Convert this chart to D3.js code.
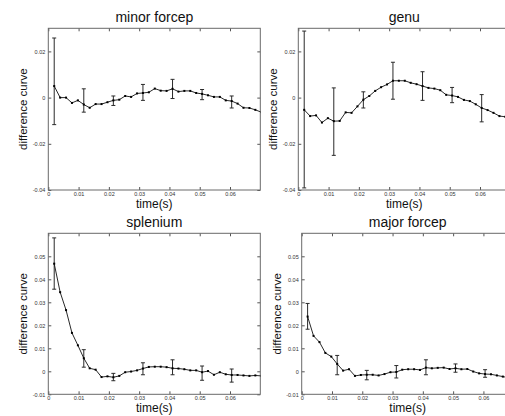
<!DOCTYPE html>
<html>
<head>
<meta charset="utf-8">
<script src="https://cdn.jsdelivr.net/npm/d3@7"></script>
<style>
  body { margin: 0; background: #fff; }
  svg { display: block; }
  text { font-family: "Liberation Sans", Arial, sans-serif; }
</style>
</head>
<body>
<svg width="505" height="416"></svg>
<script>
// sample times (s), one sample every 1/512 s
var timeSec = [0.00195, 0.00391, 0.00586, 0.00781, 0.00977, 0.01172, 0.01367, 0.01563, 0.01758, 0.01953,
  0.02148, 0.02344, 0.02539, 0.02734, 0.02930, 0.03125, 0.03320, 0.03516, 0.03711, 0.03906,
  0.04102, 0.04297, 0.04492, 0.04688, 0.04883, 0.05078, 0.05273, 0.05469, 0.05664, 0.05859,
  0.06055, 0.06250, 0.06445, 0.06641, 0.06836, 0.07031];

// samples that carry an error bar
var errIdx = [0, 5, 10, 15, 20, 25, 30];

// minor forcep
var minorVals = [0.005, 0.0, 0.0, -0.0023, -0.0012, -0.003, -0.0044, -0.0028, -0.0028, -0.002,
  -0.0012, -0.0009, 0.0007, 0.0003, 0.0018, 0.002, 0.0023, 0.0039, 0.003, 0.0029,
  0.0038, 0.0026, 0.0029, 0.0029, 0.002, 0.0016, 0.001, 0.0003, 0.0003, -0.0012,
  -0.0015, -0.0026, -0.0044, -0.0045, -0.0053, -0.0063];
var minorHi = [0.0258, 0.0038, 0.0007, 0.0057, 0.0079, 0.0035, 0.0007];
var minorLo = [-0.0117, -0.0063, -0.0034, -0.0012, -0.0004, -0.0009, -0.0045];

// genu
var genuVals = [-0.0053, -0.008, -0.0077, -0.0108, -0.0089, -0.0102, -0.0101, -0.0064, -0.0066, -0.0038,
  -0.0009, 0.0007, 0.0029, 0.0045, 0.0057, 0.0073, 0.0073, 0.0073, 0.0064, 0.0058,
  0.005, 0.0042, 0.0039, 0.0032, 0.0012, 0.0009, 0.0003, -0.001, -0.0015, -0.0029,
  -0.0045, -0.0054, -0.0066, -0.008, -0.0083, -0.0086];
var genuHi = [0.0288, 0.0042, 0.0025, 0.0153, 0.0112, 0.0044, 0.0013];
var genuLo = [-0.0391, -0.025, -0.0045, -0.0007, -0.0012, -0.0022, -0.0105];

// splenium
var splenVals = [0.0468, 0.0344, 0.0266, 0.0167, 0.0113, 0.0057, 0.0013, 0.0007, -0.0025, -0.0022,
  -0.0026, -0.002, -0.0004, -0.0001, 0.0004, 0.0012, 0.0019, 0.002, 0.002, 0.0018,
  0.0013, 0.0012, 0.0009, 0.0004, 0.0004, -0.0004, 0.0001, -0.0015, -0.0004, -0.0013,
  -0.0016, -0.0016, -0.0018, -0.002, -0.0018, -0.002];
var splenHi = [0.058, 0.0094, -0.0009, 0.0037, 0.005, 0.0023, 0.001];
var splenLo = [0.0357, 0.0018, -0.0041, -0.0015, -0.0015, -0.0039, -0.0047];

// major forcep
var majorVals = [0.0238, 0.0154, 0.0127, 0.008, 0.0064, 0.0032, 0.0003, 0.0009, -0.002, -0.0016,
  -0.0015, -0.0015, -0.0018, -0.0012, -0.0004, -0.0003, 0.0007, 0.0009, 0.0009, 0.0006,
  0.0016, 0.0013, 0.0015, 0.0016, 0.001, 0.0013, 0.0009, 0.001, -0.0001, -0.0009,
  -0.0012, -0.0013, -0.0018, -0.0023, -0.0028];
var majorHi = [0.0295, 0.0069, 0.0004, 0.0025, 0.005, 0.0032, 0.0007];
var majorLo = [0.0183, -0.0015, -0.0037, -0.0029, -0.0015, -0.0004, -0.0026];

// axis ticks
var xTicks = [0, 0.01, 0.02, 0.03, 0.04, 0.05, 0.06];
var yTicksTop = [-0.04, -0.02, 0, 0.02];
var yTicksBottom = [-0.01, 0, 0.01, 0.02, 0.03, 0.04, 0.05];

var panels = [
  { title: "minor forcep", vals: minorVals, hi: minorHi, lo: minorLo,
    left: 48.3, top: 28.3, w: 212, h: 161.7, yDom: [-0.04, 0.03], yTicks: yTicksTop },
  { title: "genu", vals: genuVals, hi: genuHi, lo: genuLo,
    left: 298.3, top: 28.3, w: 212, h: 161.7, yDom: [-0.04, 0.03], yTicks: yTicksTop },
  { title: "splenium", vals: splenVals, hi: splenHi, lo: splenLo,
    left: 48.3, top: 233.3, w: 212, h: 161, yDom: [-0.01, 0.06], yTicks: yTicksBottom },
  { title: "major forcep", vals: majorVals, hi: majorHi, lo: majorLo,
    left: 301.7, top: 233.3, w: 212, h: 161, yDom: [-0.01, 0.06], yTicks: yTicksBottom }
];

var svg = d3.select("svg");
var fmt = function(d) { return d === 0 ? "0" : d.toFixed(2); };

panels.forEach(function(p, i) {
  var g = svg.append("g").attr("transform", "translate(" + p.left + "," + p.top + ")");
  var x = d3.scaleLinear().domain([0, 0.07]).range([0, p.w]);
  var y = d3.scaleLinear().domain(p.yDom).range([p.h, 0]);

  // clip for the data
  svg.append("clipPath").attr("id", "clip" + i)
    .append("rect").attr("width", p.w).attr("height", p.h);

  // axes with inward ticks (MATLAB style)
  var axB = g.append("g").attr("transform", "translate(0," + p.h + ")")
    .call(d3.axisBottom(x).tickValues(xTicks).tickFormat(fmt).tickSize(-3).tickPadding(2));
  var axL = g.append("g")
    .call(d3.axisLeft(y).tickValues(p.yTicks).tickFormat(fmt).tickSize(-3).tickPadding(3));
  var axT = g.append("g")
    .call(d3.axisTop(x).tickValues(xTicks).tickFormat("").tickSize(-3));
  var axR = g.append("g").attr("transform", "translate(" + p.w + ",0)")
    .call(d3.axisRight(y).tickValues(p.yTicks).tickFormat("").tickSize(-3));

  [axB, axL, axT, axR].forEach(function(a) {
    a.select(".domain").remove();
    a.selectAll(".tick line").attr("stroke", "#555");
    a.selectAll(".tick text").attr("fill", "#333").style("font-size", "5.5px")
      .style("font-family", "'Liberation Sans', Arial, sans-serif");
  });

  // frame
  g.append("rect").attr("width", p.w).attr("height", p.h)
    .attr("fill", "none").attr("stroke", "#6a6a6a").attr("stroke-width", 1);

  var data = p.vals.map(function(v, k) { return { t: timeSec[k], v: v }; });
  var plot = g.append("g").attr("clip-path", "url(#clip" + i + ")");

  // error bars
  var errs = errIdx.map(function(k, j) { return { t: timeSec[k], hi: p.hi[j], lo: p.lo[j] }; });
  var eb = plot.selectAll(".err").data(errs).enter().append("g").attr("class", "err")
    .attr("stroke", "#2a2a2a").attr("stroke-width", 1);
  eb.append("line")
    .attr("x1", function(d) { return x(d.t); }).attr("x2", function(d) { return x(d.t); })
    .attr("y1", function(d) { return y(d.hi); }).attr("y2", function(d) { return y(d.lo); });
  eb.append("line")
    .attr("x1", function(d) { return x(d.t) - 2; }).attr("x2", function(d) { return x(d.t) + 2; })
    .attr("y1", function(d) { return y(d.hi); }).attr("y2", function(d) { return y(d.hi); });
  eb.append("line")
    .attr("x1", function(d) { return x(d.t) - 2; }).attr("x2", function(d) { return x(d.t) + 2; })
    .attr("y1", function(d) { return y(d.lo); }).attr("y2", function(d) { return y(d.lo); });

  // curve
  plot.append("path").datum(data)
    .attr("fill", "none").attr("stroke", "#111").attr("stroke-width", 0.9)
    .attr("d", d3.line().x(function(d) { return x(d.t); }).y(function(d) { return y(d.v); }));

  // markers
  plot.selectAll(".pt").data(data).enter().append("rect")
    .attr("x", function(d) { return x(d.t) - 1; })
    .attr("y", function(d) { return y(d.v) - 1; })
    .attr("width", 2).attr("height", 2).attr("fill", "#000");

  // labels
  g.append("text").attr("x", p.w / 2).attr("y", -6)
    .attr("text-anchor", "middle").style("font-size", "14px").attr("fill", "#111")
    .text(p.title);
  g.append("text").attr("x", p.w / 2).attr("y", p.h + 18)
    .attr("text-anchor", "middle").style("font-size", "12px").attr("fill", "#111")
    .text("time(s)");
  g.append("text")
    .attr("transform", "translate(-25," + (p.h / 2) + ") rotate(-90)")
    .attr("dy", "0.35em").attr("text-anchor", "middle")
    .style("font-size", "11.5px").attr("fill", "#111")
    .text("difference curve");
});
</script>
</body>
</html>
